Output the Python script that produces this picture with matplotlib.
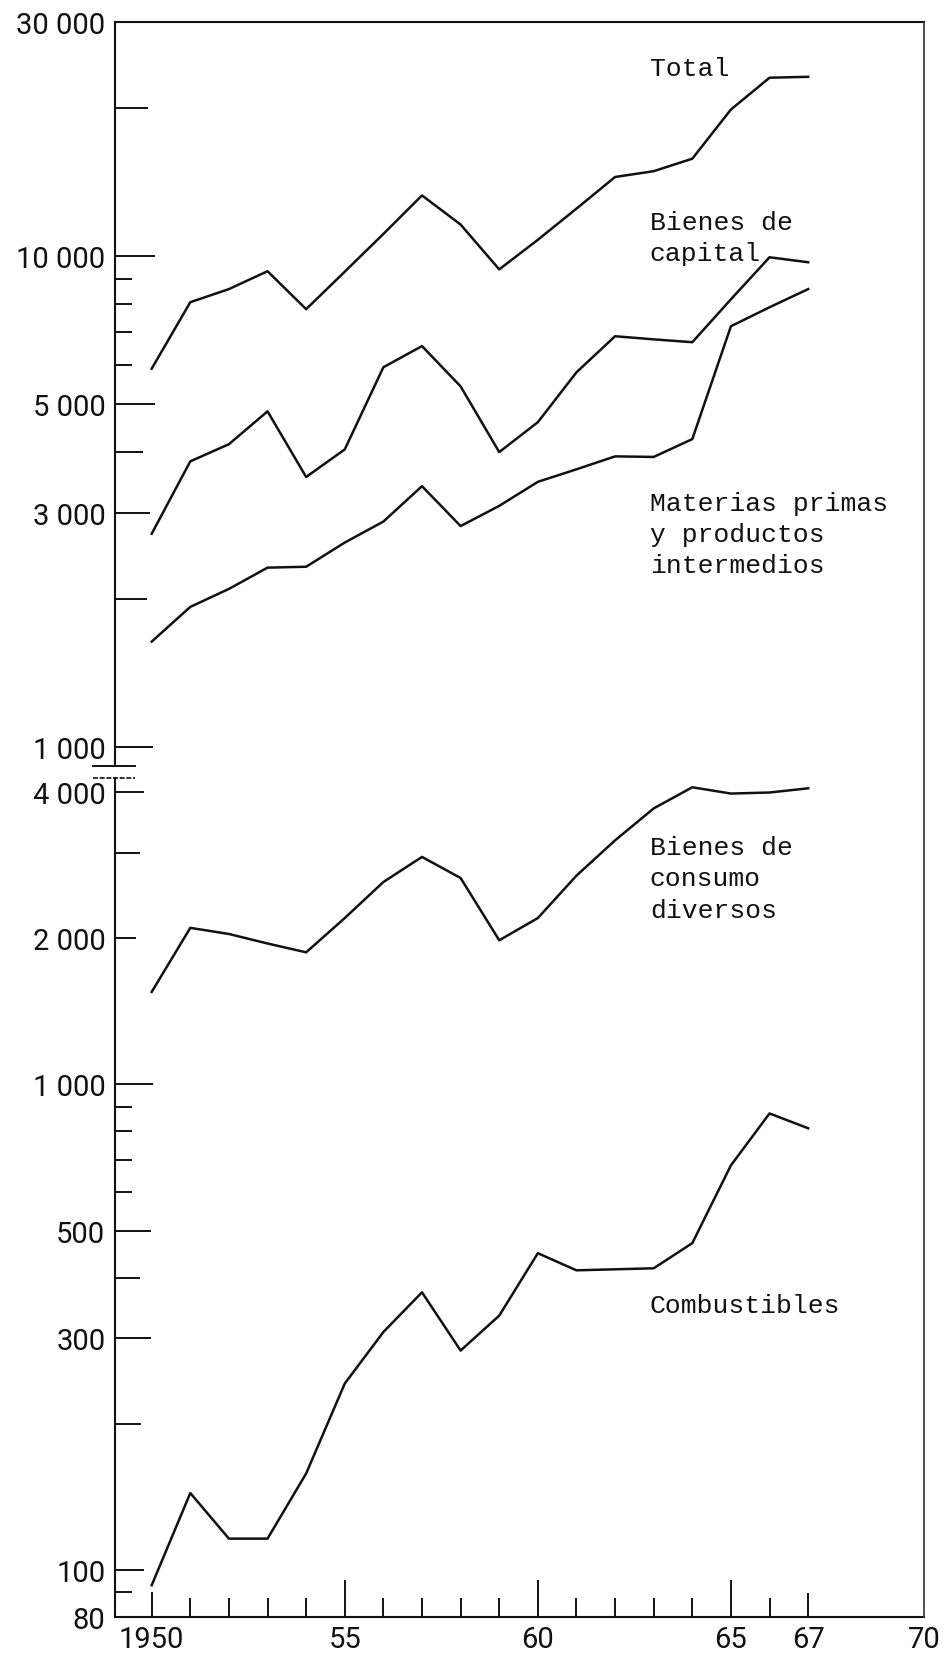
import matplotlib
matplotlib.use("Agg")
import matplotlib.pyplot as plt
from matplotlib.lines import Line2D
from matplotlib.ticker import FixedLocator, FixedFormatter, NullFormatter

# ---------------- data ----------------
years = list(range(1950, 1968))
total = [5900, 8060, 8570, 9320, 7800, 9300, 11100, 13300, 11600, 9400,
         10800, 12500, 14500, 14900, 15800, 19900, 23100, 23200]
bienes_capital = [2720, 3820, 4140, 4830, 3550, 4040, 5940, 6560, 5430, 3990,
                  4590, 5800, 6870, 6770, 6680, 8170, 9950, 9720]
materias_primas = [1640, 1930, 2100, 2320, 2330, 2610, 2880, 3400, 2820, 3100,
                   3470, 3680, 3910, 3900, 4240, 7200, 7870, 8570]
bienes_consumo = [1550, 2100, 2040, 1950, 1870, 2200, 2610, 2940, 2660, 1980,
                  2200, 2690, 3180, 3700, 4090, 3970, 3990, 4070]
combustibles = [93, 144, 116, 116, 158, 242, 309, 373, 283, 334,
                449, 414, 416, 418, 471, 681, 871, 812]

upper_major = [30000, 10000, 5000, 3000, 1000]
upper_major_labels = ["30 000", "10 000", "5 000", "3 000", "1 000"]
upper_minor = [20000, 9000, 8000, 7000, 6000, 4000, 2000]
lower_major = [4000, 2000, 1000, 500, 300, 100, 80]
lower_major_labels = ["4 000", "2 000", "1 000", "500", "300", "100", "80"]
lower_minor = [3000, 900, 800, 700, 600, 400, 200, 90]
x_major = [1950, 1955, 1960, 1965, 1967, 1970]
x_major_labels = ["1950", "55", "60", "65", "67", "70"]
x_minor = [1951, 1952, 1953, 1954, 1956, 1957, 1958, 1959,
           1961, 1962, 1963, 1964, 1966]

# ---------------- style ----------------
INK = "#111111"
LW = 1.8
TICK_FONT = dict(family=["Roboto", "DejaVu Sans"], size=21, weight="normal")
LABEL_FONT = dict(family=["Liberation Mono", "DejaVu Sans Mono"], size=19)

fig = plt.figure(figsize=(9.5, 16.56), dpi=100)
fig.patch.set_facecolor("white")

W, H = 950.0, 1656.0
left, right = 115 / W, 924 / W
ax_u = fig.add_axes([left, 1 - 767 / H, right - left, (767 - 23) / H])
ax_l = fig.add_axes([left, 1 - 1618 / H, right - left, (1618 - 779) / H])

for ax in (ax_u, ax_l):
    ax.set_yscale("log")
    ax.set_xlim(1949.05, 1970.0)
    ax.set_facecolor("white")
    for s in ax.spines.values():
        s.set_color(INK)
        s.set_linewidth(1.5)
    ax.spines["right"].set_visible(False)

ax_u.spines["bottom"].set_visible(False)
ax_l.spines["top"].set_visible(False)

ax_u.set_ylim(915, 30000)
ax_l.set_ylim(80, 4274)

# series
ax_u.plot(years, total, color=INK, lw=LW)
ax_u.plot(years, bienes_capital, color=INK, lw=LW)
ax_u.plot(years, materias_primas, color=INK, lw=LW)
ax_l.plot(years, bienes_consumo, color=INK, lw=LW)
ax_l.plot(years, combustibles, color=INK, lw=LW)

# y ticks
def set_y(ax, major, labels, minor):
    ax.yaxis.set_major_locator(FixedLocator(major))
    ax.yaxis.set_major_formatter(FixedFormatter(labels))
    ax.yaxis.set_minor_locator(FixedLocator(minor))
    ax.yaxis.set_minor_formatter(NullFormatter())
    ax.tick_params(axis="y", which="both", direction="in", left=True, right=False,
                   color=INK, width=1.4, pad=7)
    ax.tick_params(axis="y", which="major", length=27)
    ax.tick_params(axis="y", which="minor", length=12)
    for t in ax.get_yticklabels():
        t.set_fontfamily(TICK_FONT["family"])
        t.set_fontsize(TICK_FONT["size"])
        t.set_fontweight(TICK_FONT["weight"])
        t.set_color(INK)

set_y(ax_u, upper_major, upper_major_labels, upper_minor)
set_y(ax_l, lower_major, lower_major_labels, lower_minor)

# x ticks
ax_u.tick_params(axis="x", which="both", bottom=False, top=False,
                 labelbottom=False)
ax_l.xaxis.set_major_locator(FixedLocator(x_major))
ax_l.xaxis.set_major_formatter(FixedFormatter(x_major_labels))
ax_l.xaxis.set_minor_locator(FixedLocator(x_minor))
ax_l.tick_params(axis="x", which="both", direction="in", top=False,
                 color=INK, width=1.4, pad=6)
ax_l.tick_params(axis="x", which="major", length=27)
ax_l.tick_params(axis="x", which="minor", length=14)
for t in ax_l.get_xticklabels():
    t.set_fontfamily(TICK_FONT["family"])
    t.set_fontsize(TICK_FONT["size"])
    t.set_fontweight(TICK_FONT["weight"])
    t.set_color(INK)

# series labels
xl = 1962.9
ax_u.text(xl, 24150, "Total", ha="left", va="center", color=INK, **LABEL_FONT)
ax_u.text(xl, 10930, "Bienes de\ncapital", ha="left", va="center",
          color=INK, linespacing=1.38, **LABEL_FONT)
ax_u.text(xl, 2714, "Materias primas\ny productos\nintermedios", ha="left",
          va="center", color=INK, linespacing=1.38, **LABEL_FONT)
ax_l.text(xl, 2656, "Bienes de\nconsumo\ndiversos", ha="left", va="center",
          color=INK, linespacing=1.38, **LABEL_FONT)
ax_l.text(xl, 352, "Combustibles", ha="left", va="center", color=INK,
          **LABEL_FONT)

# axis-break marks
ax_u.add_line(Line2D([-0.027, 0.025], [0, 0], transform=ax_u.transAxes,
                     color=INK, lw=1.4, clip_on=False))
ax_l.add_line(Line2D([-0.027, 0.025], [1, 1], transform=ax_l.transAxes,
                     color=INK, lw=1.2, clip_on=False, ls=(0, (3, 1))))

# right border, continuous
fig.add_artist(Line2D([right, right], [1 - 23 / H, 1 - 1618 / H],
                      transform=fig.transFigure, color="#333333", lw=1.2))

# individual tick lengths (hand-drawn look)
fig.canvas.draw()
def tick_lengths(ticks, locs, lengths):
    for tk, loc in zip(ticks, locs):
        if loc in lengths:
            tk.tick1line.set_markersize(lengths[loc])

tick_lengths(ax_u.yaxis.get_major_ticks(), upper_major,
             {30000: 0, 10000: 29, 5000: 29, 3000: 25, 1000: 27})
tick_lengths(ax_u.yaxis.get_minor_ticks(), upper_minor,
             {20000: 24, 4000: 20, 2000: 23})
tick_lengths(ax_l.yaxis.get_major_ticks(), lower_major,
             {4000: 21, 2000: 15, 1000: 27, 500: 26, 300: 26, 100: 21, 80: 0})
tick_lengths(ax_l.yaxis.get_minor_ticks(), lower_minor,
             {3000: 18, 400: 18, 200: 19})
tick_lengths(ax_l.xaxis.get_major_ticks(), x_major,
             {1950: 18, 1967: 17, 1970: 0})

fig.savefig("out.png", dpi=100, facecolor="white")
